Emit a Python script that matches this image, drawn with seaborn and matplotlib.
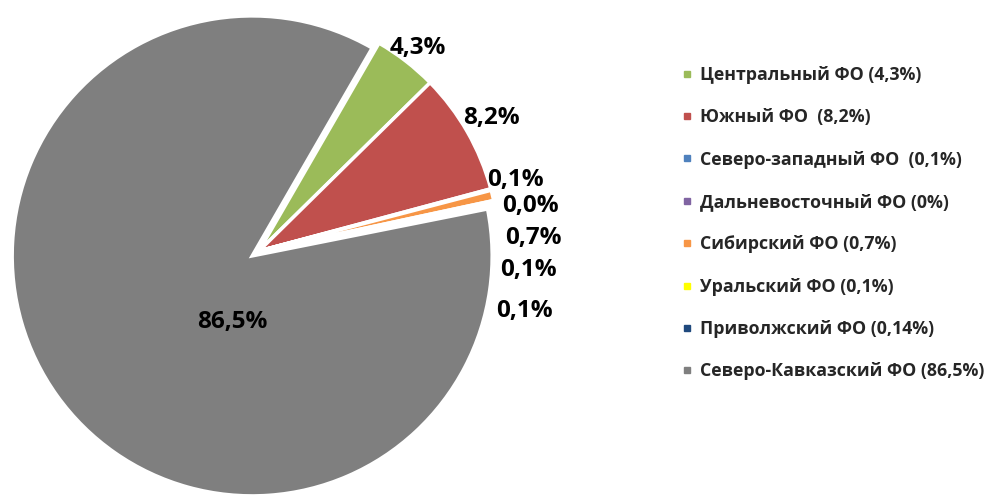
import numpy as np
import matplotlib
matplotlib.use("Agg")
import matplotlib.pyplot as plt
from matplotlib.lines import Line2D
import seaborn as sns

# --- DATA ---
regions = ["Центральный ФО (4,3%)", "Южный ФО  (8,2%)", "Северо-западный ФО  (0,1%)",
           "Дальневосточный ФО (0%)", "Сибирский ФО (0,7%)", "Уральский ФО (0,1%)",
           "Приволжский ФО (0,14%)", "Северо-Кавказский ФО (86,5%)"]
shares = [4.3, 8.2, 0.1, 0.0, 0.7, 0.1, 0.14, 86.5]
slice_labels = ["4,3%", "8,2%", "0,1%", "0,0%", "0,7%", "0,1%", "0,1%", "86,5%"]
colors = ["#9BBB59", "#C0504D", "#4F81BD", "#8064A2", "#F79646", "#FFFF00", "#1F497D", "#7F7F7F"]

# --- LAYOUT (pixels) ---
W, H = 987, 496
CX, CY, R = 259, 251, 240
label_px = [(418, 48), (491, 118), (515, 180), (530, 206), (533, 238),
            (528, 270), (524, 311), (232, 322)]

sns.set_theme(style="white")
plt.rcParams['font.family'] = ['Open Sans', 'DejaVu Sans']

fig = plt.figure(figsize=(W / 100, H / 100), dpi=100)
ax = fig.add_axes([0, 0, 1, 1])

explode = [0, 0, 0, 0, 0, 0, 0, 0.035]
ax.pie(shares, colors=colors, startangle=60, counterclock=False, explode=explode,
       wedgeprops=dict(edgecolor="white", linewidth=2.5), radius=1)

def px2data(px, py):
    return (px - CX) / R, (CY - py) / R

for lab, (px, py) in zip(slice_labels, label_px):
    x, y = px2data(px, py)
    ax.text(x, y, lab, ha="center", va="center", fontsize=17.5, fontweight="bold", color="black")

ax.set_xlim(-CX / R, (W - CX) / R)
ax.set_ylim((CY - H) / R, CY / R)
ax.set_aspect("auto")
ax.axis("off")

handles = [Line2D([0], [0], marker="s", linestyle="none", markersize=5,
                  markerfacecolor=c, markeredgecolor=c) for c in colors]
fig.legend(handles, regions, loc="upper left", bbox_to_anchor=(666 / W, 1 - 50 / H),
           frameon=False, handlelength=0.6, handletextpad=0.4, labelspacing=1.37,
           prop=dict(size=12.8, weight="bold"))

fig.savefig("out.png", dpi=100)
